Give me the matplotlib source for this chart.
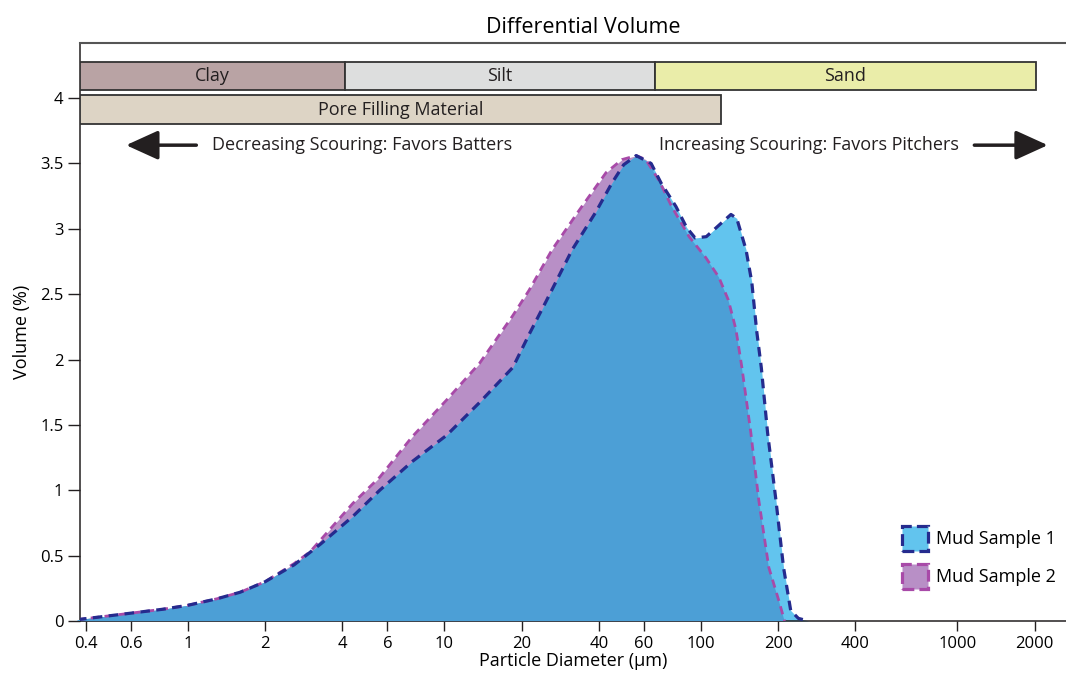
import matplotlib.pyplot as plt
from matplotlib.patches import Patch

plt.rcParams['font.family'] = ['Open Sans', 'DejaVu Sans']

# Mud Sample 1 (diameter in um, volume in %)
d1 = [0.37, 0.45, 0.6, 0.8, 1.0, 1.3, 1.6, 2.0, 2.6, 3.3, 4.4, 5.6, 7.5, 10.2,
      13.7, 18.5, 21.5, 25, 31.5, 39, 45, 50, 56, 64, 70, 80, 88, 95, 105,
      118, 131, 138, 150, 158, 165, 172, 182, 196, 210, 224, 240, 263]
v1 = [0.01, 0.03, 0.06, 0.09, 0.12, 0.17, 0.22, 0.30, 0.43, 0.59, 0.80, 1.00,
      1.22, 1.42, 1.67, 1.94, 2.20, 2.45, 2.84, 3.13, 3.35, 3.49, 3.56, 3.50,
      3.35, 3.17, 3.01, 2.93, 2.94, 3.03, 3.11, 3.08, 2.84, 2.59, 2.22, 1.94,
      1.44, 0.93, 0.41, 0.08, 0.02, 0.0]

# Mud Sample 2
d2 = [0.37, 0.45, 0.6, 0.8, 1.0, 1.3, 1.6, 2.0, 2.6, 3.0, 4.4, 5.6, 7.5, 10.2,
      13.7, 18.4, 21.4, 26.3, 33.5, 42.7, 49.3, 56, 61, 68.7, 77, 90, 104.5,
      117.5, 128, 137, 144.5, 156.6, 168, 184, 201, 212]
v2 = [0.01, 0.03, 0.06, 0.09, 0.12, 0.17, 0.22, 0.30, 0.44, 0.53, 0.90, 1.10,
      1.41, 1.69, 1.97, 2.33, 2.53, 2.84, 3.14, 3.43, 3.53, 3.56, 3.53, 3.37,
      3.17, 2.94, 2.78, 2.63, 2.455, 2.23, 1.94, 1.44, 0.93, 0.41, 0.16, 0.0]

# size classes: (label, start, end, colour)
classes = [('Clay', 0.38, 4.1, '#b9a3a4'),
           ('Silt', 4.1, 66, '#dddede'),
           ('Sand', 66, 2030, '#eaeda9')]
pore = ('Pore Filling Material', 0.38, 120, '#ddd4c5')

xticks = [0.4, 0.6, 1, 2, 4, 6, 10, 20, 40, 60, 100, 200, 400, 1000, 2000]
xticklabels = ['0.4', '0.6', '1', '2', '4', '6', '10', '20', '40', '60', '100',
               '200', '400', '1000', '2000']
yticks = [0, 0.5, 1, 1.5, 2, 2.5, 3, 3.5, 4]
yticklabels = ['0', '0.5', '1', '1.5', '2', '2.5', '3', '3.5', '4']

c_purple = '#b88fc6'
c_light = '#62c4ee'
c_mid = '#4c9fd6'
c_navy = '#252b8e'
c_mag = '#a84aa8'
c_text = '#231f20'

fig = plt.figure(figsize=(10.66, 6.75), dpi=100)
ax = fig.add_axes([0.075, 0.08, 0.925, 0.856])
ax.set_xscale('log')
ax.set_xlim(0.38, 2650)
ax.set_ylim(0, 4.42)

# fills: purple for sample 2, light blue for sample 1, mid blue where both
p2 = ax.fill_between(d2, v2, 0, color=c_purple, lw=0, zorder=1)
ax.fill_between(d1, v1, 0, color=c_light, lw=0, zorder=2)
overlap = ax.fill_between(d1, v1, 0, color=c_mid, lw=0, zorder=3)
overlap.set_clip_path(p2.get_paths()[0], ax.transData)

# dashed outlines
ax.plot(d2, v2, color=c_mag, lw=2.0, dashes=(3, 2), zorder=4)
ax.plot(d1, v1, color=c_navy, lw=2.3, dashes=(3, 2), zorder=5)

# size class bars
for name, a, b, col in classes:
    ax.barh(4.168, b - a, left=a, height=0.214, color=col, edgecolor='#333333',
            lw=1.3, zorder=3)
    ax.text((a * b) ** 0.5, 4.168, name, ha='center', va='center', fontsize=13,
            color=c_text)
name, a, b, col = pore
ax.barh(3.912, b - a, left=a, height=0.222, color=col, edgecolor='#333333',
        lw=1.3, zorder=3)
ax.text((a * b) ** 0.5, 3.912, name, ha='center', va='center', fontsize=13,
        color=c_text)

# scouring arrows
arrow = dict(arrowstyle='-|>,head_length=1.1,head_width=0.5', lw=2.5,
             color=c_text, mutation_scale=18, shrinkA=0, shrinkB=0)
ax.annotate('', xy=(0.575, 3.64), xytext=(1.08, 3.64), arrowprops=arrow)
ax.annotate('', xy=(2250, 3.64), xytext=(1164, 3.64), arrowprops=arrow)
ax.text(1.24, 3.64, 'Decreasing Scouring: Favors Batters', ha='left',
        va='center', fontsize=13, color=c_text)
ax.text(68.7, 3.64, 'Increasing Scouring: Favors Pitchers', ha='left',
        va='center', fontsize=13, color=c_text)

ax.set_xticks(xticks)
ax.set_xticklabels(xticklabels)
ax.xaxis.set_minor_locator(plt.NullLocator())
ax.set_yticks(yticks)
ax.set_yticklabels(yticklabels)
ax.tick_params(axis='x', length=7, width=1, labelsize=12, color=c_text, pad=4)
ax.tick_params(axis='y', length=9, width=1, labelsize=12, color=c_text, pad=3)

for s in ['left', 'bottom']:
    ax.spines[s].set_color(c_text)
    ax.spines[s].set_linewidth(1.1)
ax.spines['top'].set_color('#555555')
ax.spines['top'].set_linewidth(1.5)
ax.spines['right'].set_visible(False)

ax.set_xlabel('Particle Diameter (µm)', fontsize=13, labelpad=0)
ax.set_ylabel('Volume (%)', fontsize=13, labelpad=6)
ax.set_title('Differential Volume', fontsize=15.5, pad=7, x=0.51)

handles = [Patch(facecolor=c_light, edgecolor=c_navy, linestyle='--', lw=2.3),
           Patch(facecolor=c_purple, edgecolor=c_mag, linestyle='--', lw=2.3)]
ax.legend(handles, ['Mud Sample 1', 'Mud Sample 2'], loc='lower left',
          bbox_to_anchor=(0.817, 0.028), frameon=False, fontsize=13,
          handlelength=1.45, handleheight=1.7, handletextpad=0.45,
          labelspacing=0.75)

fig.savefig('out.png', dpi=100)
